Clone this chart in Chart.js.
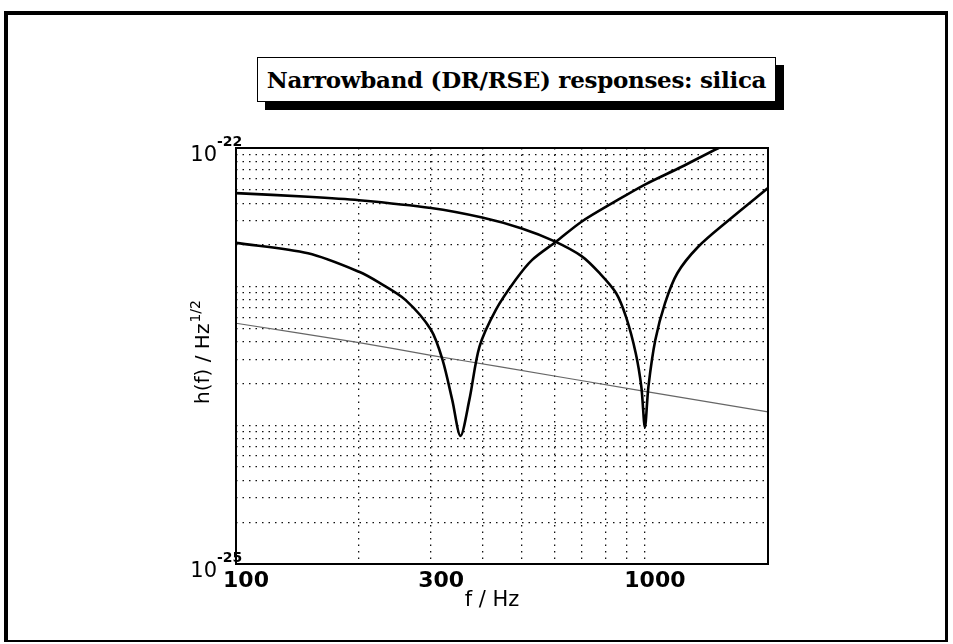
<!DOCTYPE html>
<html>
<head>
<meta charset="utf-8">
<title>Narrowband (DR/RSE) responses: silica</title>
<script src="https://cdn.jsdelivr.net/npm/chart.js@4.4.1/dist/chart.umd.min.js"></script>
<style>
    html, body { margin: 0; padding: 0; background: #fff; }
    body { width: 953px; height: 644px; position: relative; overflow: hidden; }
    #frame {
        position: absolute; left: 4px; top: 11px; width: 944px; height: 631px;
        box-sizing: border-box;
        border-top: 4px solid #000; border-left: 4px solid #000;
        border-right: 3px solid #000; border-bottom: 2px solid #000;
    }
    #titleBox {
        position: absolute; left: 257px; top: 57px; width: 519px; height: 45px;
        box-sizing: border-box; border: 1.5px solid #000; background: #fff;
        box-shadow: 8px 8px 0 #000;
        display: flex; align-items: center; justify-content: center;
        font: bold 23px "DejaVu Serif", serif; color: #000; letter-spacing: -0.3px;
    }
    #chartWrap { position: absolute; left: 140px; top: 120px; width: 660px; height: 510px; }
</style>
</head>
<body>
<div id="frame"></div>
<div id="titleBox">Narrowband (DR/RSE) responses: silica</div>
<div id="chartWrap"><canvas id="respChart" width="660" height="510"></canvas></div>

<script>
// detector tuned near 1 kHz
const tuned1000Hz = [100, 150, 200, 300, 400, 500, 600, 700, 775, 850, 900, 950, 980, 1000, 1020, 1060, 1120, 1200, 1350, 1600, 2000];
const tuned1000Strain = [4.73e-23, 4.45e-23, 4.2e-23, 3.69e-23, 3.15e-23, 2.63e-23, 2.13e-23, 1.66e-23, 1.25e-23, 9.0e-24, 6.0e-24, 3.3e-24, 1.9e-24, 9.7e-25, 1.9e-24, 4.1e-24, 7.6e-24, 1.25e-23, 1.94e-23, 3.0e-23, 5.14e-23];

// detector tuned near 350 Hz
const tuned350Hz = [100, 150, 200, 225, 260, 300, 320, 338, 354, 372, 394, 432, 483, 530, 606, 700, 850, 1000, 1230, 1515, 1700];
const tuned350Strain = [2.07e-23, 1.74e-23, 1.28e-23, 1.06e-23, 8.0e-24, 4.87e-24, 2.96e-24, 1.52e-24, 8.4e-25, 1.52e-24, 3.69e-24, 6.8e-24, 1.12e-23, 1.56e-23, 2.11e-23, 2.94e-23, 4.15e-23, 5.45e-23, 7.32e-23, 1.0e-22, 1.15e-22];

// thin reference line
const refHz = [100, 200, 300, 440, 1000, 2000];
const refStrain = [5.45e-24, 3.95e-24, 3.2e-24, 2.65e-24, 1.76e-24, 1.25e-24];

const xGridHz = [100, 200, 300, 400, 500, 600, 700, 800, 900, 1000, 2000];
const xLabelHz = [100, 300, 1000];
const yLabelValues = [1e-22, 1e-25];
const yDecades = [-25, -24, -23];

const FONT = '"DejaVu Sans", sans-serif';

function toPoints(xs, ys) {
    return xs.map((x, i) => ({ x: x, y: ys[i] }));
}

function yGridValues() {
    const vals = [];
    yDecades.forEach(e => {
        for (let m = 1; m <= 9; m++) vals.push(m * Math.pow(10, e));
    });
    vals.push(1e-22);
    return vals;
}

const axisText = {
    id: 'axisText',
    afterDraw(chart) {
        const { ctx, chartArea: a, scales: { y } } = chart;
        ctx.save();
        ctx.strokeStyle = '#000';
        ctx.lineWidth = 2;
        ctx.strokeRect(a.left, a.top, a.right - a.left, a.bottom - a.top);

        ctx.fillStyle = '#000';
        ctx.textBaseline = 'alphabetic';
        yLabelValues.forEach(v => {
            const py = y.getPixelForValue(v);
            ctx.font = '21px ' + FONT;
            ctx.textAlign = 'right';
            ctx.fillText('10', a.left - 19, py + 13);
            ctx.font = 'bold 14px ' + FONT;
            ctx.textAlign = 'left';
            ctx.fillText(String(Math.round(Math.log10(v))), a.left - 19, py - 2);
        });

        // x title
        ctx.font = '21px ' + FONT;
        ctx.textAlign = 'center';
        ctx.fillText('f / Hz', (a.left + a.right) / 2 - 10, a.bottom + 42);

        // y title with superscript
        const main = 'h(f) / Hz';
        const sup = '1/2';
        ctx.font = '20px ' + FONT;
        const wMain = ctx.measureText(main).width;
        ctx.font = '14px ' + FONT;
        const wSup = ctx.measureText(sup).width;
        const total = wMain + wSup + 1;
        ctx.translate(a.left - 27, (a.top + a.bottom) / 2 - 4);
        ctx.rotate(-Math.PI / 2);
        ctx.textAlign = 'left';
        ctx.font = '20px ' + FONT;
        ctx.fillText(main, -total / 2, 0);
        ctx.font = '14px ' + FONT;
        ctx.fillText(sup, -total / 2 + wMain + 1, -9);
        ctx.restore();
    }
};

function initChart() {
    const ctx = document.getElementById('respChart');
    const lineStyle = { borderColor: '#000', borderWidth: 2.6, pointRadius: 0, tension: 0.3 };
    return new Chart(ctx, {
        type: 'line',
        data: {
            datasets: [
                Object.assign({ label: 'tuned 1 kHz', data: toPoints(tuned1000Hz, tuned1000Strain) }, lineStyle),
                Object.assign({ label: 'tuned 350 Hz', data: toPoints(tuned350Hz, tuned350Strain) }, lineStyle),
                {
                    label: 'reference',
                    data: toPoints(refHz, refStrain),
                    borderColor: '#666', borderWidth: 1.2, pointRadius: 0, tension: 0.2
                }
            ]
        },
        options: {
            responsive: false,
            animation: false,
            devicePixelRatio: 1,
            layout: { padding: { left: 0, top: 28, right: 32, bottom: 0 } },
            plugins: { legend: { display: false }, tooltip: { enabled: false } },
            scales: {
                x: {
                    type: 'logarithmic', position: 'bottom', min: 100, max: 2000,
                    afterBuildTicks: s => { s.ticks = xGridHz.map(v => ({ value: v })); },
                    afterFit: s => { s.height = 66; },
                    ticks: {
                        autoSkip: false, maxRotation: 0, padding: 4, labelOffset: 10,
                        color: '#000', font: { family: FONT, size: 22, weight: 'bold' },
                        callback: v => xLabelHz.includes(v) ? String(v) : ''
                    },
                    grid: { color: '#111', lineWidth: 1.3, drawTicks: false },
                    border: { display: false, dash: [1.5, 5] }
                },
                y: {
                    type: 'logarithmic', min: 1e-25, max: 1e-22,
                    afterBuildTicks: s => { s.ticks = yGridValues().map(v => ({ value: v })); },
                    afterFit: s => { s.width = 96; },
                    ticks: { display: false },
                    grid: { color: '#111', lineWidth: 1.3, drawTicks: false },
                    border: { display: false, dash: [1.5, 5] }
                }
            }
        },
        plugins: [axisText]
    });
}

initChart();
</script>
</body>
</html>
